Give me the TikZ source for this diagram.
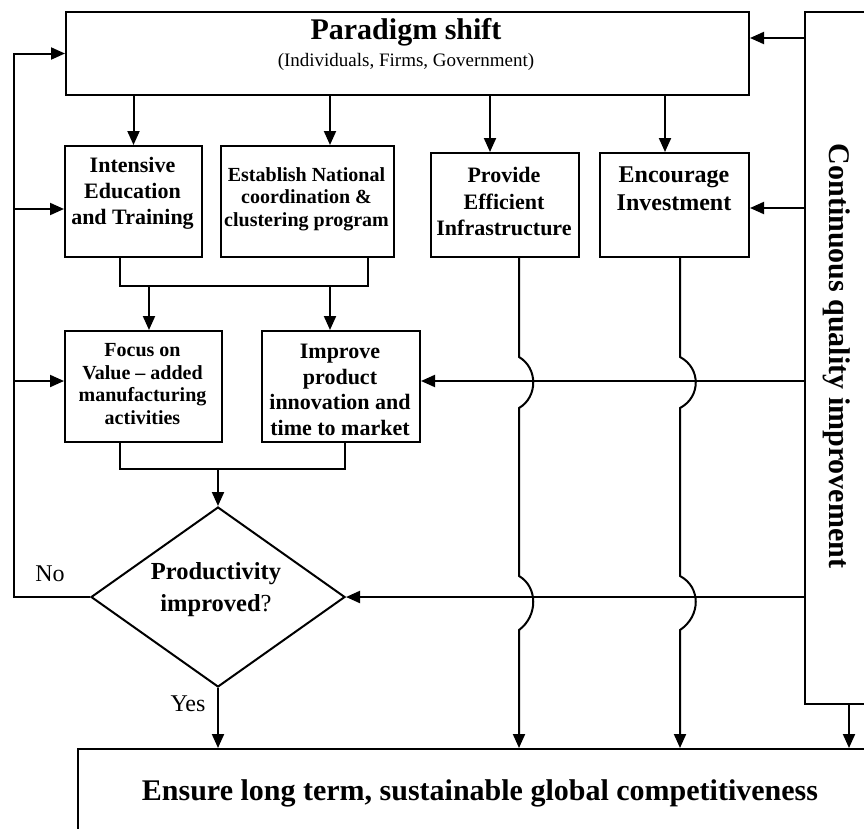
\documentclass[tikz,border=0pt]{standalone}
\usepackage{fontspec}
\setmainfont{Liberation Serif}
\usetikzlibrary{shapes.geometric,arrows.meta,calc}
\begin{document}
\begin{tikzpicture}[x=1pt,y=-1pt,
 box/.style={draw, line width=2pt, inner sep=0pt, anchor=north west},
 lbl/.style={align=center, inner sep=0pt, font=\bfseries},
 plain/.style={inner sep=0pt},
 conn/.style={line width=2pt},
 arr/.style={conn, -{Triangle[length=14pt,width=12pt]}},
]
\path[use as bounding box] (0,0) rectangle (864,828);
\clip (0,0) rectangle (864,828);

% boxes
\node[box, minimum width=683pt, minimum height=83pt] (ps) at (65,11) {};
\node[box, minimum width=100pt, minimum height=692pt] (cqi) at (804,11) {};
\node[box, minimum width=137pt, minimum height=111pt] (int) at (64,145) {};
\node[box, minimum width=173pt, minimum height=111pt] (est) at (220,145) {};
\node[box, minimum width=148pt, minimum height=104pt] (pro) at (430,152) {};
\node[box, minimum width=149pt, minimum height=104pt] (enc) at (599,152) {};
\node[box, minimum width=157pt, minimum height=111pt] (foc) at (64,330) {};
\node[box, minimum width=158pt, minimum height=111pt] (imp) at (261,330) {};
\node[draw, line width=2pt, diamond, aspect=1.41, inner sep=0pt, minimum width=254pt, minimum height=180pt] (dia) at (218,597) {};
\node[box, minimum width=830pt, minimum height=120pt] (bot) at (77,748) {};

% texts
\node[lbl, font=\bfseries\fontsize{30}{34}\selectfont] (psT) at (406,32) {Paradigm shift};
\node[plain, font=\fontsize{19}{23}\selectfont] (psS) at (406,62) {(Individuals, Firms, Government)};
\node[lbl, font=\bfseries\fontsize{22}{26}\selectfont] (intT) at (132.5,193) {Intensive\\Education\\and Training};
\node[lbl, font=\bfseries\fontsize{20}{22.5}\selectfont] (estT) at (306.5,199) {Establish National\\coordination \&\\clustering program};
\node[lbl, font=\bfseries\fontsize{22}{26.5}\selectfont] (proT) at (504,201.5) {Provide\\Efficient\\Infrastructure};
\node[lbl, font=\bfseries\fontsize{24}{28}\selectfont] (encT) at (674,189) {Encourage\\Investment};
\node[lbl, font=\bfseries\fontsize{20}{22.7}\selectfont] (focT) at (142.5,384) {Focus on\\Value -- added\\manufacturing\\activities};
\node[lbl, font=\bfseries\fontsize{22}{25.5}\selectfont] (impT) at (340,390) {Improve\\product\\innovation and\\time to market};
\node[lbl, font=\bfseries\fontsize{24.5}{32}\selectfont] (diaT) at (216,590) {Productivity\\improved{\mdseries ?}};
\node[lbl, rotate=-90, font=\bfseries\fontsize{30}{34}\selectfont] (cqiT) at (837,356) {Continuous quality improvement};
\node[lbl, font=\bfseries\fontsize{30}{34}\selectfont] (botT) at (480,793) {Ensure long term, sustainable global competitiveness};
\node[plain, font=\fontsize{24}{28}\selectfont] (no) at (50,574) {No};
\node[plain, font=\fontsize{24}{28}\selectfont] (yes) at (188,704) {Yes};

% helper coordinates
\coordinate (lx) at (14,0);
\coordinate (m1) at (0,286);
\coordinate (m2) at (0,469);
\coordinate (j1) at (0,357);
\coordinate (j2) at (0,408);
\coordinate (j3) at (0,576);
\coordinate (j4) at (0,630);

% top connectors
\draw[arr] ($(cqi.north west)+(0,27)$) -- ($(ps.north east)+(0,27)$);
\draw[arr] (int.north |- ps.south) -- (int.north);
\draw[arr] ($(est.north |- ps.south)+(22.5,0)$) -- ($(est.north)+(22.5,0)$);
\draw[arr] ($(pro.north |- ps.south)+(-15,0)$) -- ($(pro.north)+(-15,0)$);
\draw[arr] ($(enc.north |- ps.south)+(-9.5,0)$) -- ($(enc.north)+(-9.5,0)$);

% left feedback loop
\draw[arr] (dia.west) -- (dia.west -| lx) -- (lx |- ps.west) -- (ps.west);
\draw[arr] ($(lx |- int.west)+(0,7.5)$) -- ($(int.west)+(0,7.5)$);
\draw[arr] ($(lx |- foc.west)+(0,-5.5)$) -- ($(foc.west)+(0,-5.5)$);

% right side arrows
\draw[arr] ($(cqi.west |- enc.east)+(0,3)$) -- ($(enc.east)+(0,3)$);
\draw[arr] ($(cqi.west |- imp.east)+(0,-5.5)$) -- ($(imp.east)+(0,-5.5)$);
\draw[arr] (cqi.west |- dia.east) -- (dia.east);
\coordinate (cb) at ($(cqi.south west)+(45,0)$);
\draw[arr] (cb) -- (cb |- bot.north);

% merges
\coordinate (i1) at ($(int.south)+(-13.5,0)$);
\coordinate (e1) at ($(est.south)+(60.5,0)$);
\draw[conn] (i1) -- (i1 |- m1) -- (e1 |- m1) -- (e1);
\coordinate (f1) at ($(foc.north)+(5.5,0)$);
\draw[arr] (f1 |- m1) -- (f1);
\coordinate (p1) at ($(imp.north)+(-11,0)$);
\draw[arr] (p1 |- m1) -- (p1);
\coordinate (f2) at ($(foc.south)+(-23.5,0)$);
\coordinate (p2) at ($(imp.south)+(4,0)$);
\draw[conn] (f2) -- (f2 |- m2) -- (p2 |- m2) -- (p2);
\draw[arr] (dia.north |- m2) -- (dia.north);
\draw[arr] (dia.south) -- (dia.south |- bot.north);

% long lines with jumps
\coordinate (pv) at ($(pro.south)+(14,0)$);
\draw[arr] (pv) -- (pv |- j1) .. controls +(19,11) and +(19,-11) .. (pv |- j2)
  -- (pv |- j3) .. controls +(19,11) and +(19,-14) .. (pv |- j4) -- (pv |- bot.north);
\coordinate (ev) at ($(enc.south)+(5.5,0)$);
\draw[arr] (ev) -- (ev |- j1) .. controls +(21,11) and +(21,-11) .. (ev |- j2)
  -- (ev |- j3) .. controls +(21,11) and +(21,-14) .. (ev |- j4) -- (ev |- bot.north);
\end{tikzpicture}
\end{document}
